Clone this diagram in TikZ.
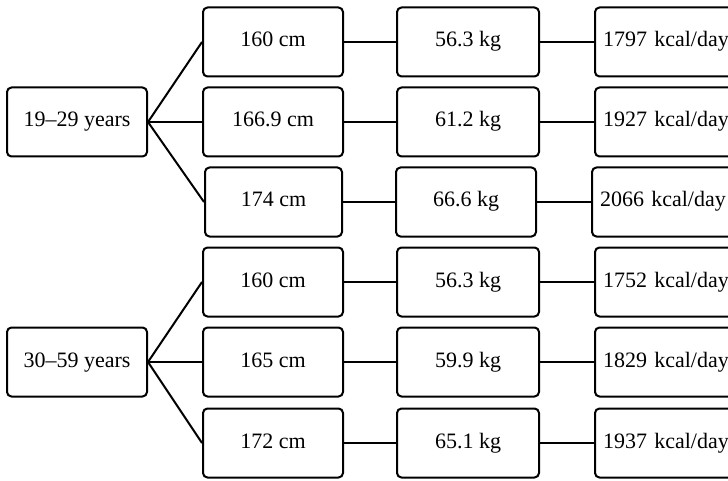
\documentclass[tikz,border=0pt]{standalone}
\usepackage{fontspec}
\setmainfont{Liberation Serif}
\begin{document}
\begin{tikzpicture}[x=1pt,y=-1pt,
  box/.style={draw,line width=2pt,rounded corners=4.5pt,minimum height=69pt,inner sep=0pt,text height=15pt,text depth=5pt,font=\fontsize{22}{25}\selectfont},
  agebox/.style={box,minimum width=140pt},
  cmbox/.style={box,minimum width=140pt},
  kgbox/.style={box,minimum width=142pt},
  kcalbox/.style={box,anchor=west,text width=134pt,inner xsep=8pt,align=left},
  link/.style={line width=2pt}]
\clip (0,0) rectangle (728,481);
\useasboundingbox (0,0) rectangle (728,481);
% first group
\node[agebox] (a1) at (77,122) {19–29 years};
\node[cmbox] (c1) at (273,42) {160 cm};
\node[cmbox] (c2) at (273,122) {166.9 cm};
\node[cmbox,minimum width=137pt] (c3) at (273.5,202) {174 cm};
\node[kgbox] (k1) at (468,42) {56.3 kg};
\node[kgbox] (k2) at (468,122) {61.2 kg};
\node[kgbox,minimum width=140pt] (k3) at (466,202) {66.6 kg};
\node[kcalbox] (e1) at (594,42) {1797 kcal/day};
\node[kcalbox] (e2) at (594,122) {1927 kcal/day};
\node[kcalbox] (e3) at (591,202) {2066 kcal/day};
% second group
\node[agebox] (a2) at (77,362) {30–59 years};
\node[cmbox] (c4) at (273,282) {160 cm};
\node[cmbox] (c5) at (273,362) {165 cm};
\node[cmbox] (c6) at (273,443) {172 cm};
\node[kgbox] (k4) at (468,282) {56.3 kg};
\node[kgbox] (k5) at (468,362) {59.9 kg};
\node[kgbox] (k6) at (468,443) {65.1 kg};
\node[kcalbox] (e4) at (594,282) {1752 kcal/day};
\node[kcalbox] (e5) at (594,362) {1829 kcal/day};
\node[kcalbox] (e6) at (594,443) {1937 kcal/day};
% connectors
\foreach \a/\c in {a1/c1,a1/c2,a1/c3,a2/c4,a2/c5,a2/c6}
  \draw[link] (\a.east) -- (\c.west);
\foreach \i in {1,...,6}{
  \draw[link] (c\i.east) -- (k\i.west);
  \draw[link] (k\i.east) -- (e\i.west);
}
\end{tikzpicture}
\end{document}
